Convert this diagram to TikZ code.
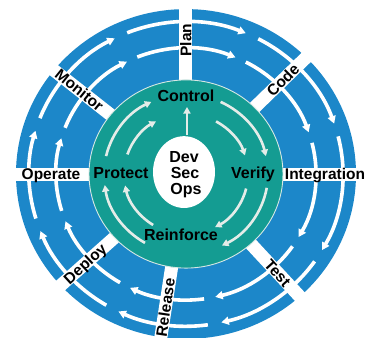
\documentclass[tikz,border=0pt]{standalone}
\usepackage{fontspec}
\setmainfont{Liberation Sans}
\usetikzlibrary{arrows.meta}

\definecolor{ringblue}{HTML}{1C87C9}
\definecolor{coreteal}{HTML}{149C92}
\definecolor{paleflow}{HTML}{E4ECE8}
\definecolor{coreedge}{HTML}{D6E8E4}

\tikzset{
  phase/.style={font=\bfseries\fontsize{15.5}{16}\selectfont, inner sep=0pt,
    text height=11pt, text depth=0pt},
  pillar/.style={font=\bfseries\fontsize{16}{16}\selectfont, inner sep=0pt,
    text height=11.5pt, text depth=0pt},
  outerflow/.style={white, line width=3.6pt,
    -{Triangle[length=7.5pt,width=8pt]}},
  innerflow/.style={paleflow, line width=2.6pt,
    -{Triangle[length=6.5pt,width=7pt]}},
  gapstrip/.style={white, line width=13pt},
}

\begin{document}
\begin{tikzpicture}[x=1pt,y=1pt]
\useasboundingbox (-186,-164) rectangle (187,174);

\begin{scope}[y=0.97pt]
  % outer lifecycle ring
  \fill[ringblue] (0,0) circle (170);

  % two tracks of clockwise flow arrows
  \foreach \s/\e in {197/163.5, 158.5/117, 112/67.6, 62.6/19.3,
                     14.3/-30, -35/-77, -82/-115.5, -120.5/-158} {
    \draw[outerflow] (\s:157) arc[start angle=\s, end angle=\e, radius=157];
    \draw[outerflow] (\s:130) arc[start angle=\s, end angle=\e, radius=130];
  }

  % white radial gaps between the phases
  \foreach \a in {90, 45, 0, -48, 261.5, 222.5, 180, 141}
    \draw[gapstrip] (\a:90) -- (\a:190);

  % phase names on the gaps
  \node[phase, rotate=90]   (plan)   at (90:138)    {Plan};
  \node[phase, rotate=45]   (code)   at (45:137)    {Code};
  \node[phase]              (integ)  at (0:139)     {Integration};
  \node[phase, rotate=-48]  (test)   at (-48:137)   {Test};
  \node[phase, rotate=81.5] (rel)    at (261.5:139) {Release};
  \node[phase, rotate=42.5] (deploy) at (222.5:137) {Deploy};
  \node[phase]              (oper)   at (180:135)   {Operate};
  \node[phase, rotate=-39]  (mon)    at (141:137)   {Monitor};

  % security core
  \filldraw[fill=coreteal, draw=coreedge, line width=0.9pt] (0,0) circle (97);

  \foreach \s/\e in {167/115, 65/13, -10/-64, 240/188}
    \draw[innerflow] (\s:82) arc[start angle=\s, end angle=\e, radius=82];
  \foreach \s/\e in {161/119, 61/18, -14/-62, 238/191}
    \draw[innerflow] (\s:62) arc[start angle=\s, end angle=\e, radius=62];

  \fill[white] (-2,2) ellipse [x radius=31, y radius=37];
\end{scope}

% centre and the four security practices
\node[pillar] (dev) at (-2,17)  {Dev};
\node[pillar] (sec) at (-1,1)   {Sec};
\node[pillar] (ops) at (0,-15)  {Ops};

\node[pillar] (control)   at (0,78)   {Control};
\node[pillar] (verify)    at (67,1)   {Verify};
\node[pillar] (protect)   at (-65,1)  {Protect};
\node[pillar] (reinforce) at (-5,-61) {Reinforce};

\draw[innerflow] (1,39) -- (1,67);
\end{tikzpicture}
\end{document}
